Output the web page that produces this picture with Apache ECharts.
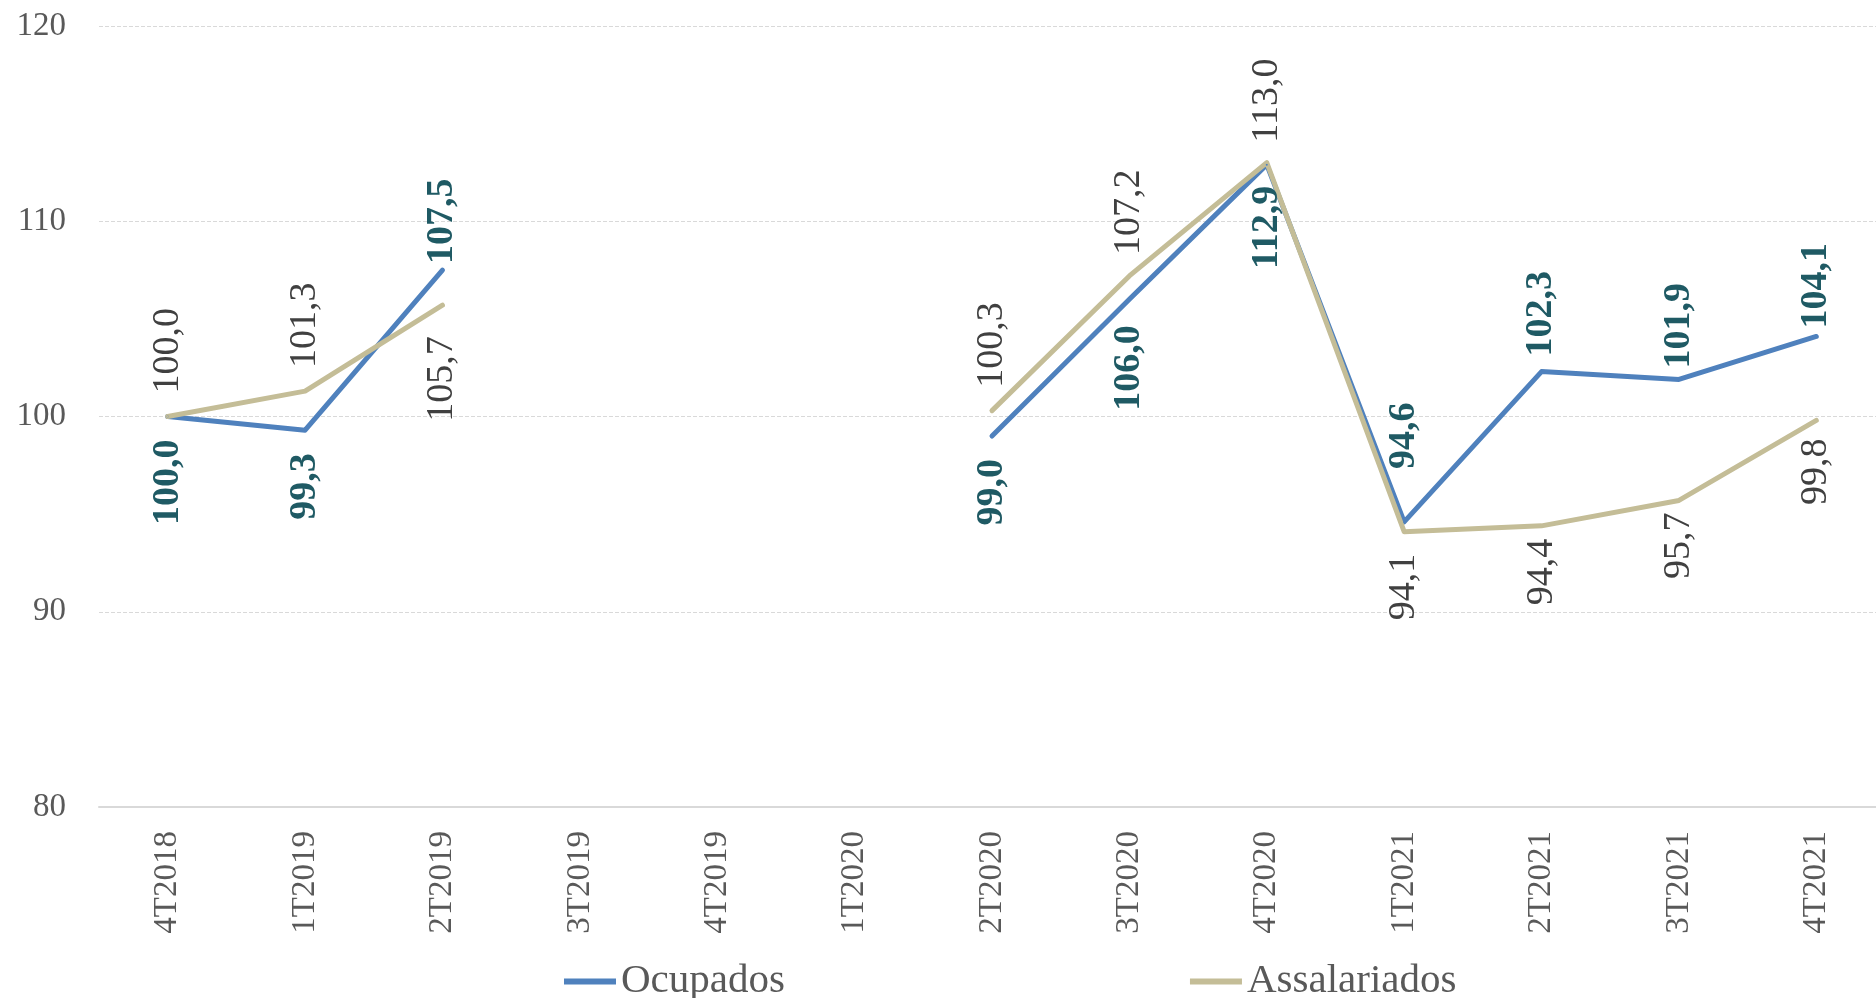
<!DOCTYPE html>
<html>
<head>
<meta charset="utf-8">
<script src="https://cdn.jsdelivr.net/npm/echarts@6/dist/echarts.min.js"></script>
<style>
  html, body { margin: 0; padding: 0; background: #fff; }
  #chart { width: 1876px; height: 998px; }
</style>
</head>
<body>
<div id="chart"></div>
<script>
const quarters = ['4T2018', '1T2019', '2T2019', '3T2019', '4T2019', '1T2020', '2T2020', '3T2020', '4T2020', '1T2021', '2T2021', '3T2021', '4T2021'];
const ocupados = [100.0, 99.3, 107.5, null, null, null, 99.0, 106.0, 112.9, 94.6, 102.3, 101.9, 104.1];
const assalariados = [100.0, 101.3, 105.7, null, null, null, 100.3, 107.2, 113.0, 94.1, 94.4, 95.7, 99.8];
const yTicks = { min: 80, max: 120, interval: 10 };

// where each data label sits (above / below the point) and how far from it
const ocupadosSide = ['bottom', 'bottom', 'top', null, null, null, 'bottom', 'bottom', 'bottom', 'top', 'top', 'top', 'top'];
const ocupadosGap = [22, 22, 5, 0, 0, 0, 22, 25, 20, 52, 14, 10, 7];
const assalariadosSide = ['top', 'top', 'bottom', null, null, null, 'top', 'top', 'top', 'bottom', 'bottom', 'bottom', 'bottom'];
const assalariadosGap = [22, 22, 30, 0, 0, 0, 22, 20, 19, 21, 12, 11, 17];

const FONT = "'Liberation Serif', serif";
const fmt = v => v.toFixed(1).replace('.', ',');

function buildData(values, sides, gaps) {
  return values.map((v, i) => {
    if (v === null) return null;
    const up = sides[i] === 'top';
    return {
      value: v,
      label: {
        position: sides[i],
        distance: gaps[i],
        align: up ? 'left' : 'right',
        verticalAlign: 'middle'
      }
    };
  });
}

function makeSeries(name, values, sides, gaps, color, labelColor, bold) {
  return {
    name: name,
    type: 'line',
    data: buildData(values, sides, gaps),
    symbol: 'circle',
    symbolSize: 2,
    connectNulls: false,
    itemStyle: { color: color },
    lineStyle: { color: color, width: 5, cap: 'round', join: 'round' },
    label: {
      show: true,
      rotate: 90,
      fontFamily: FONT,
      fontSize: 38,
      fontWeight: bold ? 'bold' : 'normal',
      color: labelColor,
      formatter: p => fmt(p.value)
    },
    emphasis: { disabled: true },
    animation: false
  };
}

const chart = echarts.init(document.getElementById('chart'));
chart.setOption({
  backgroundColor: '#ffffff',
  textStyle: { fontFamily: FONT },
  grid: { left: 99, right: -9, top: 26, bottom: 191, outerBoundsMode: 'none' },
  legend: {
    data: ['Ocupados', 'Assalariados'],
    left: 559,
    top: 956,
    icon: 'rect',
    itemWidth: 52,
    itemHeight: 6,
    itemGap: 405,
    textStyle: { fontFamily: FONT, fontSize: 41, color: '#595959' }
  },
  xAxis: {
    type: 'category',
    data: quarters,
    boundaryGap: true,
    axisLine: { lineStyle: { color: '#D9D9D9', width: 2 } },
    axisTick: { show: false },
    axisLabel: {
      rotate: 90,
      margin: 24,
      fontFamily: FONT,
      fontSize: 33,
      color: '#595959'
    }
  },
  yAxis: {
    type: 'value',
    min: yTicks.min,
    max: yTicks.max,
    interval: yTicks.interval,
    axisLine: { show: false },
    axisTick: { show: false },
    axisLabel: { margin: 33, fontFamily: FONT, fontSize: 33, color: '#595959' },
    splitLine: { lineStyle: { color: '#D9D9D9', type: 'dashed', width: 1 } }
  },
  series: [
    makeSeries('Ocupados', ocupados, ocupadosSide, ocupadosGap, '#4F81BD', '#1F5A64', true),
    makeSeries('Assalariados', assalariados, assalariadosSide, assalariadosGap, '#C4BD97', '#404040', false)
  ]
});
</script>
</body>
</html>
